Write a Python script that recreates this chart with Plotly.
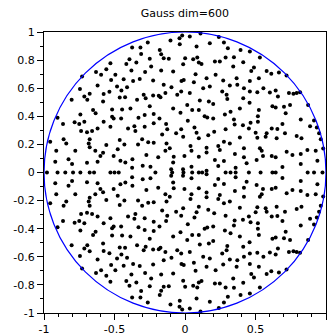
import plotly.graph_objects as go

# complex-conjugate eigenvalues (upper half-plane; lower half is the mirror)
x_upper = [
    -0.529, -0.558, -0.730, -0.631, -0.595, -0.524, -0.745, -0.620, -0.676, -0.714, -0.536, -0.577, -0.804, -0.693, -0.581,
    -0.103, -0.039, -0.037, -0.264, -0.316, -0.375, -0.311, -0.179, -0.169, -0.151, -0.115, -0.394, -0.345, -0.250, -0.416,
    -0.283, -0.240, -0.169, -0.084, -0.013, -0.494, -0.380, -0.435, -0.368, -0.321, -0.226, -0.025, -0.096, -0.151, -0.482,
    -0.451, -0.411, -0.425, -0.463, -0.340, -0.293, -0.279, -0.226, -0.186, -0.174, -0.139, -0.055, -0.027,
    -0.020, 0.034, 0.110, 0.240, 0.176, 0.276, 0.082, 0.304, 0.394, 0.460, 0.001, 0.058, 0.087, 0.098, 0.117, 0.212, 0.247,
    0.288, 0.347, 0.413, 0.342, 0.470, 0.075, 0.217, 0.153, -0.009, 0.063, 0.271, 0.366, 0.460, 0.176, 0.129, 0.318, 0.371,
    0.418, 0.034, 0.264, 0.295, 0.300, 0.460, 0.413, 0.105, 0.169,
    0.489, 0.531, 0.579, 0.612, 0.666, 0.720, 0.524, 0.513, 0.556, 0.602, 0.643, 0.659, 0.737, 0.769, 0.792, 0.816,
    -0.517, -0.904, -0.865, -0.742, -0.652, -0.634, -0.783, -0.750, -0.714, -0.517, -0.577, -0.620, -0.659, -0.695, -0.737,
    -0.956, -0.861, -0.842, -0.676, -0.683, -0.676, -0.558, -0.913, -0.778, -0.636, -0.581, -0.600, -0.920, -0.826, -0.801,
    -0.695, -0.620,
    -0.250, -0.084, -0.032, -0.446, -0.387, -0.506, -0.453, -0.330, -0.286, -0.222, -0.181, -0.529, -0.404, -0.359, -0.352,
    -0.286, -0.222, -0.134, -0.126, -0.162, -0.063, -0.027, -0.013, -0.463, -0.430, -0.333, -0.304, -0.261, -0.222, -0.131,
    -0.108, -0.139, -0.477, -0.506, -0.458, -0.423, -0.373, -0.274, -0.190, -0.080, -0.084, -0.375, -0.300, -0.245, -0.098,
    -0.014,
    0.016, 0.200, 0.458, 0.051, 0.098, 0.139, 0.158, 0.200, 0.283, 0.323, 0.389, 0.020, 0.347, 0.352, 0.411, 0.465, 0.453,
    0.067, 0.082, 0.098, 0.165, 0.207, 0.288, 0.389, 0.276, 0.318, 0.039, 0.046, 0.153, 0.153, 0.236, 0.247, 0.354, 0.418,
    0.418, -0.004, 0.098, 0.212, 0.276, 0.437, 0.236, 0.359, 0.046, 0.153,
    0.620, 0.643, 0.702, 0.745, 0.714, 0.873, 0.524, 0.517, 0.517, 0.821, 0.915, 0.935, 0.615, 0.655, 0.691, 0.887, 0.501,
    0.579, 0.513, 0.572, 0.650, 0.709, 0.792, 0.826, 0.951, 0.963, 0.980, 0.531, 0.544, 0.615, 0.643, 0.721, 0.762, 0.821,
    0.868, 0.927, 0.508, 0.553, 0.821, 0.939, 0.691,
]
y_upper = [
    0.778, 0.735, 0.683, 0.716, 0.695, 0.659, 0.595, 0.620, 0.560, 0.541, 0.574, 0.558, 0.517, 0.517, 0.506,
    0.939, 0.956, 0.913, 0.925, 0.889, 0.889, 0.844, 0.872, 0.842, 0.813, 0.809, 0.806, 0.783, 0.809, 0.773,
    0.716, 0.755, 0.726, 0.719, 0.771, 0.695, 0.726, 0.664, 0.652, 0.666, 0.655, 0.652, 0.607, 0.624, 0.612,
    0.584, 0.607, 0.536, 0.534, 0.517, 0.553, 0.529, 0.548, 0.546, 0.536, 0.565, 0.553, 0.577,
    0.975, 0.968, 0.990, 0.965, 0.920, 0.925, 0.897, 0.885, 0.872, 0.861, 0.813, 0.806, 0.818, 0.783, 0.773, 0.790, 0.790,
    0.818, 0.821, 0.785, 0.755, 0.723, 0.700, 0.695, 0.671, 0.659, 0.643, 0.655, 0.671, 0.652, 0.612, 0.600, 0.620, 0.624,
    0.600, 0.565, 0.577, 0.553, 0.524, 0.577, 0.529, 0.513, 0.506,
    0.747, 0.818, 0.723, 0.702, 0.712, 0.690, 0.671, 0.572, 0.600, 0.570, 0.584, 0.541, 0.565, 0.560, 0.565, 0.572,
    0.449, 0.389, 0.345, 0.413, 0.444, 0.421, 0.357, 0.345, 0.361, 0.396, 0.361, 0.314, 0.295, 0.286, 0.295,
    0.219, 0.236, 0.207, 0.236, 0.207, 0.179, 0.195, 0.155, 0.155, 0.155, 0.141, 0.117, 0.077, 0.094, 0.060,
    0.070, 0.077,
    0.472, 0.456, 0.425, 0.449, 0.456, 0.385, 0.385, 0.389, 0.409, 0.416, 0.385, 0.325, 0.314, 0.330, 0.295,
    0.325, 0.350, 0.345, 0.307, 0.271, 0.279, 0.307, 0.254, 0.231, 0.200, 0.200, 0.236, 0.215, 0.212, 0.207,
    0.172, 0.155, 0.165, 0.117, 0.084, 0.072, 0.094, 0.124, 0.108, 0.112, 0.072, 0.034, 0.048, 0.041, 0.023,
    0.023,
    0.480, 0.487, 0.496, 0.444, 0.444, 0.401, 0.392, 0.385, 0.413, 0.432, 0.456, 0.368, 0.378, 0.342, 0.337, 0.354, 0.314,
    0.321, 0.283, 0.243, 0.266, 0.290, 0.307, 0.250, 0.219, 0.207, 0.188, 0.155, 0.176, 0.143, 0.188, 0.160, 0.131, 0.172,
    0.108, 0.117, 0.112, 0.089, 0.082, 0.065, 0.046, 0.034, 0.041, 0.013,
    0.472, 0.463, 0.468, 0.480, 0.421, 0.480, 0.444, 0.401, 0.361, 0.378, 0.370, 0.320, 0.314, 0.309, 0.345, 0.330, 0.283,
    0.279, 0.247, 0.254, 0.243, 0.279, 0.259, 0.243, 0.279, 0.236, 0.170, 0.172, 0.155, 0.117, 0.108, 0.148, 0.124, 0.131,
    0.160, 0.155, 0.089, 0.117, 0.060, 0.084, 0.040,
]

# real eigenvalues (on the real axis)
x_real = [-0.979, -0.904, -0.849, -0.794, -0.742, -0.676, -0.645, -0.529, -0.500, -0.470, -0.210, -0.091, -0.011,
          0.051, 0.098, 0.122, 0.288, 0.323, 0.359, 0.453, 0.536, 0.620, 0.643, 0.870, 0.915, 0.975]

x_ticks = [-1, -0.5, 0, 0.5, 1]
x_labels = ["-1", "-0.5", "0", "0.5", "1"]
y_ticks = [-1, -0.8, -0.6, -0.4, -0.2, 0, 0.2, 0.4, 0.6, 0.8, 1]
y_labels = ["-1", "-0.8", "-0.6", "-0.4", "-0.2", "0", "0.2", "0.4", "0.6", "0.8", "1"]
title = "Gauss dim=600"

xs = x_upper + x_upper + x_real
ys = y_upper + [-v for v in y_upper] + [0.0] * len(x_real)

fig = go.Figure()
fig.add_trace(go.Scatter(x=xs, y=ys, mode="markers",
                         marker=dict(color="black", size=4, line=dict(width=0)),
                         showlegend=False, hoverinfo="skip"))
fig.add_shape(type="circle", xref="x", yref="y", x0=-1, y0=-1, x1=1, y1=1,
              line=dict(color="#0000ff", width=1.2), layer="above")

axis_common = dict(showgrid=False, zeroline=False, showline=True, mirror=True,
                   linecolor="black", linewidth=1, ticks="outside", ticklen=6,
                   tickcolor="black", tickwidth=1, automargin=False,
                   tickfont=dict(family="DejaVu Sans", size=11, color="black"))
fig.update_xaxes(range=[-1, 1], tickvals=x_ticks, ticktext=x_labels,
                 minor=dict(ticks="outside", ticklen=3, dtick=0.1, tick0=0, tickcolor="black"),
                 **axis_common)
fig.update_yaxes(range=[-1, 1], tickvals=y_ticks, ticktext=y_labels,
                 minor=dict(ticks="outside", ticklen=3, dtick=0.1, tick0=0, tickcolor="black"),
                 **axis_common)
fig.update_layout(width=329, height=336,
                  margin=dict(l=44, r=3, t=32, b=23, autoexpand=False),
                  paper_bgcolor="white", plot_bgcolor="white",
                  title=dict(text=title, x=0.562, xanchor="center", y=0.962, yanchor="middle",
                             font=dict(family="DejaVu Sans", size=11, color="black")),
                  font=dict(family="DejaVu Sans"))
fig.write_html("out.html", config={"displayModeBar": False, "staticPlot": True},
               post_script="document.body.style.margin='0px';document.body.style.overflow='hidden';")
